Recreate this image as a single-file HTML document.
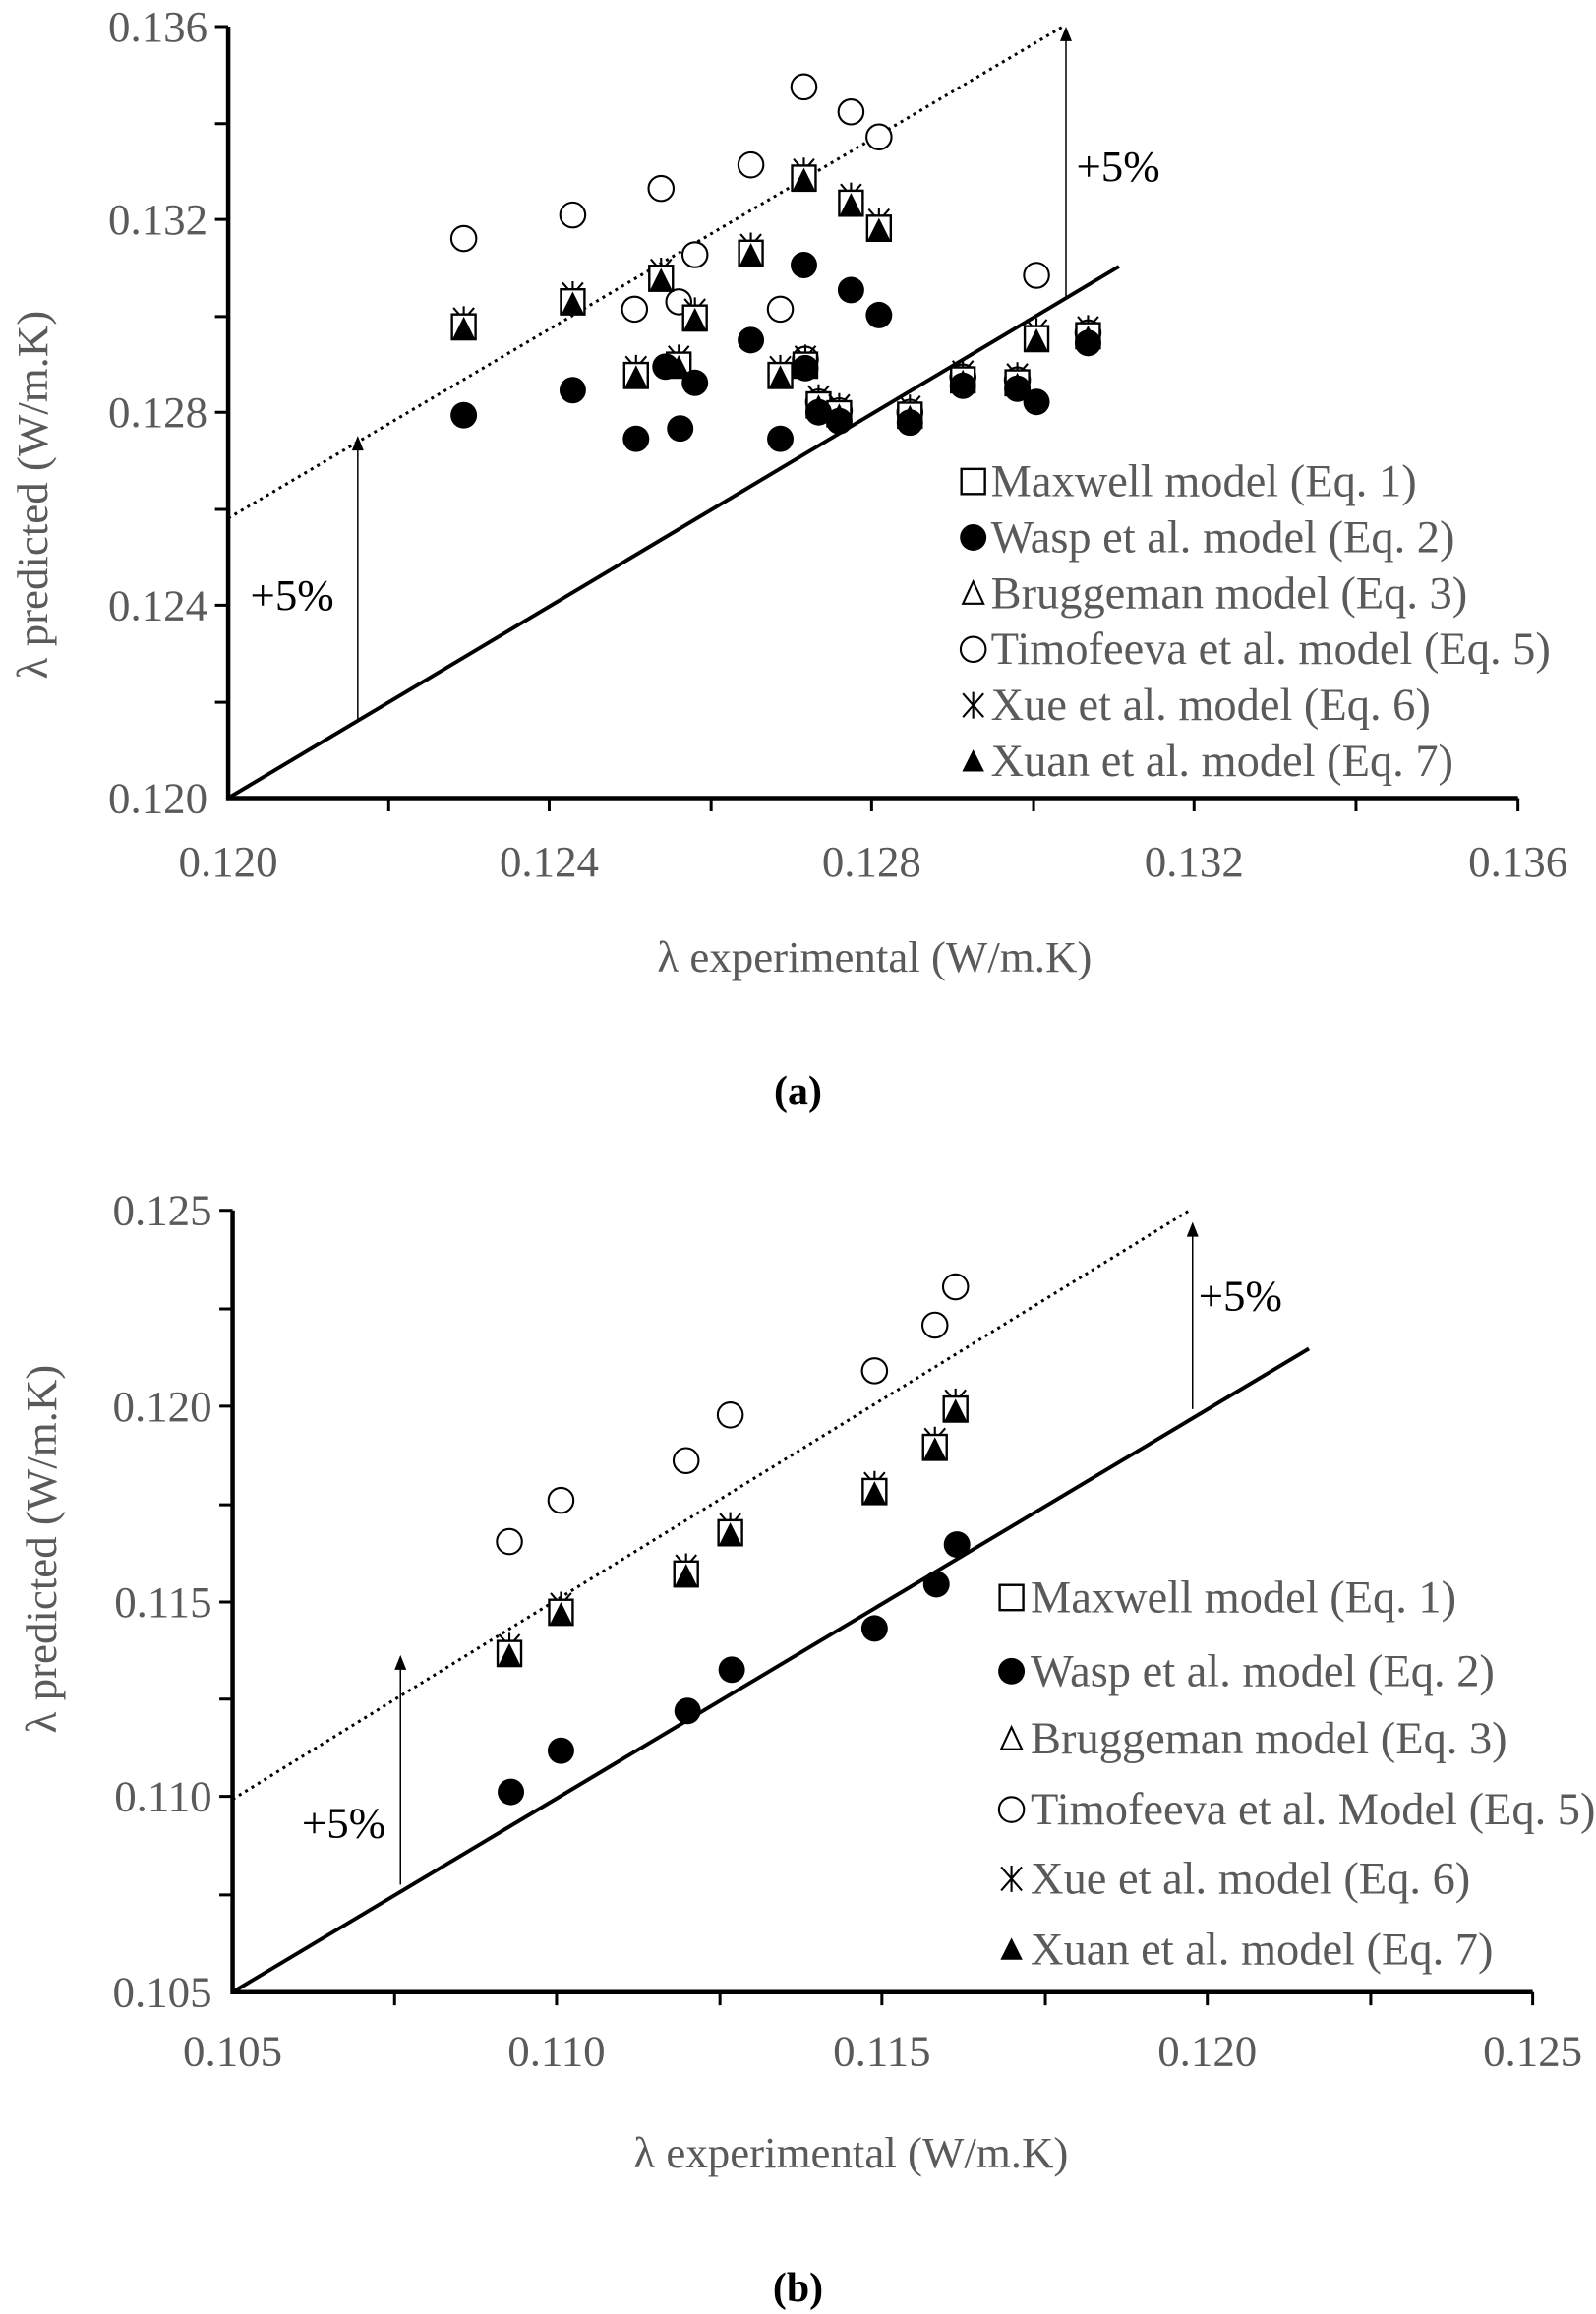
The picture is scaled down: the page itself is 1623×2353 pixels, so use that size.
<!DOCTYPE html>
<html><head><meta charset="utf-8"><style>
html,body{margin:0;padding:0;background:#fff;}
svg{display:block;}
text{font-family:"Liberation Serif",serif;fill:#5a5a5a;}
</style></head><body>
<svg width="1623" height="2353" viewBox="0 0 1084 1571.6" preserveAspectRatio="none" xmlns="http://www.w3.org/2000/svg">
<defs>
<g id="sq"><rect x="-8" y="-8.5" width="16" height="17" fill="#fff" stroke="#000" stroke-width="1.6"/></g>
<g id="tri"><path d="M-7.5,7 L7.5,7 L0,-8 Z" fill="#000"/></g>
<g id="otri"><path d="M-7,7 L7,7 L0,-8 Z" fill="#fff" stroke="#000" stroke-width="1.4"/></g>
<g id="fc"><circle r="9" fill="#000"/></g>
<g id="oc"><circle r="8.5" fill="#fff" stroke="#000" stroke-width="1.4"/></g>
<g id="st" stroke="#000" stroke-width="1.4"><path d="M-7,-8 L7,8 M-7,8 L7,-8 M0,-9 L0,9"/></g>
<g id="combo"><use href="#st" y="-5"/><use href="#sq"/><use href="#tri" y="1"/></g>
<g id="ah"><path d="M-4,10 L4,10 L0,0 Z" fill="#000"/></g>
</defs>

<!-- Chart A -->
<g stroke="#000" stroke-width="3" fill="none">
<path d="M155,18 V542 H1031"/>
</g>
<g stroke="#000" stroke-width="2" fill="none">
<path d="M146,18 H155 M146,84 H155 M146,149 H155 M146,215 H155 M146,280 H155 M146,346 H155 M146,411 H155 M146,477 H155"/>
<path d="M264,542 V551 M373,542 V551 M483,542 V551 M592,542 V551 M702,542 V551 M811,542 V551 M921,542 V551 M1031,542 V551"/>
</g>
<line x1="155" y1="542" x2="760" y2="181" stroke="#000" stroke-width="2.6"/>
<line x1="155" y1="352" x2="722" y2="18" stroke="#000" stroke-width="2" stroke-dasharray="2,3"/>
<line x1="724" y1="202" x2="724" y2="26" stroke="#000" stroke-width="1"/><use href="#ah" x="724" y="18"/>
<line x1="243" y1="490" x2="243" y2="304" stroke="#000" stroke-width="1"/><use href="#ah" x="243" y="296"/>
<text x="731" y="123" font-size="30" style="fill:#000">+5%</text>
<text x="170" y="414" font-size="30" style="fill:#000">+5%</text>
<g font-size="30" text-anchor="end">
<text x="141" y="28">0.136</text><text x="141" y="159">0.132</text><text x="141" y="290">0.128</text><text x="141" y="421">0.124</text><text x="141" y="552">0.120</text>
</g>
<g font-size="30" text-anchor="middle">
<text x="155" y="595">0.120</text><text x="373" y="595">0.124</text><text x="592" y="595">0.128</text><text x="811" y="595">0.132</text><text x="1031" y="595">0.136</text>
<text x="594" y="660">λ experimental  (W/m.K)</text>
<text x="542" y="750" font-weight="bold" font-size="28" style="fill:#000">(a)</text>
</g>
<text transform="translate(32,336) rotate(-90)" font-size="30" text-anchor="middle">λ predicted (W/m.K)</text>

<g>
<use href="#oc" x="315" y="162"/><use href="#oc" x="389" y="146"/><use href="#oc" x="449" y="128"/><use href="#oc" x="431" y="210"/><use href="#oc" x="461" y="205"/><use href="#oc" x="472" y="173"/><use href="#oc" x="510" y="112"/><use href="#oc" x="530" y="210"/><use href="#oc" x="546" y="59"/><use href="#oc" x="578" y="76"/><use href="#oc" x="597" y="93"/><use href="#oc" x="704" y="187"/><use href="#oc" x="547" y="244"/><use href="#oc" x="556" y="273"/><use href="#oc" x="570" y="279"/><use href="#oc" x="618" y="280"/><use href="#oc" x="654" y="256"/><use href="#oc" x="691" y="258"/><use href="#oc" x="739" y="226"/>
<use href="#combo" x="315" y="222"/><use href="#combo" x="389" y="205"/><use href="#combo" x="432" y="255"/><use href="#combo" x="449" y="189"/><use href="#combo" x="461" y="248"/><use href="#combo" x="472" y="216"/><use href="#combo" x="510" y="172"/><use href="#combo" x="530" y="255"/><use href="#combo" x="546" y="121"/><use href="#combo" x="547" y="248"/><use href="#combo" x="556" y="275"/><use href="#combo" x="570" y="281"/><use href="#combo" x="578" y="138"/><use href="#combo" x="597" y="155"/><use href="#combo" x="618" y="282"/><use href="#combo" x="654" y="258"/><use href="#combo" x="691" y="260"/><use href="#combo" x="704" y="230"/><use href="#combo" x="739" y="228"/>
<use href="#fc" x="315" y="282"/><use href="#fc" x="389" y="265"/><use href="#fc" x="432" y="298"/><use href="#fc" x="452" y="249"/><use href="#fc" x="462" y="291"/><use href="#fc" x="472" y="260"/><use href="#fc" x="510" y="231"/><use href="#fc" x="530" y="298"/><use href="#fc" x="546" y="180"/><use href="#fc" x="547" y="250"/><use href="#fc" x="556" y="280"/><use href="#fc" x="570" y="286"/><use href="#fc" x="578" y="197"/><use href="#fc" x="597" y="214"/><use href="#fc" x="618" y="287"/><use href="#fc" x="654" y="262"/><use href="#fc" x="691" y="264"/><use href="#fc" x="704" y="273"/><use href="#fc" x="739" y="233"/>
</g>
<g font-size="31">
<use href="#sq" x="661" y="327"/><text x="673" y="337">Maxwell model (Eq. 1)</text>
<use href="#fc" x="661" y="365"/><text x="673" y="375">Wasp et al. model (Eq. 2)</text>
<use href="#otri" x="661" y="403"/><text x="673" y="413">Bruggeman model (Eq. 3)</text>
<use href="#oc" x="661" y="441"/><text x="673" y="451">Timofeeva et al. model (Eq. 5)</text>
<use href="#st" x="661" y="479"/><text x="673" y="489">Xue et al. model (Eq. 6)</text>
<use href="#tri" x="661" y="517"/><text x="673" y="527">Xuan et al. model (Eq. 7)</text>
</g>

<!-- Chart B -->
<g stroke="#000" stroke-width="3" fill="none">
<path d="M158,822 V1353 H1041"/>
</g>
<g stroke="#000" stroke-width="2" fill="none">
<path d="M149,822 H158 M149,889 H158 M149,955 H158 M149,1022 H158 M149,1088 H158 M149,1154 H158 M149,1220 H158 M149,1287 H158"/>
<path d="M268,1353 V1362 M378,1353 V1362 M489,1353 V1362 M599,1353 V1362 M710,1353 V1362 M820,1353 V1362 M931,1353 V1362 M1041,1353 V1362"/>
</g>
<line x1="158" y1="1353" x2="889" y2="916" stroke="#000" stroke-width="2.6"/>
<line x1="158" y1="1222" x2="808" y2="822" stroke="#000" stroke-width="2" stroke-dasharray="2,3"/>
<line x1="810" y1="957" x2="810" y2="838" stroke="#000" stroke-width="1"/><use href="#ah" x="810" y="830"/>
<line x1="272" y1="1280" x2="272" y2="1132" stroke="#000" stroke-width="1"/><use href="#ah" x="272" y="1124"/>
<text x="814" y="890" font-size="30" style="fill:#000">+5%</text>
<text x="205" y="1248" font-size="30" style="fill:#000">+5%</text>
<g font-size="30" text-anchor="end">
<text x="144" y="832">0.125</text><text x="144" y="965">0.120</text><text x="144" y="1098">0.115</text><text x="144" y="1230">0.110</text><text x="144" y="1363">0.105</text>
</g>
<g font-size="30" text-anchor="middle">
<text x="158" y="1403">0.105</text><text x="378" y="1403">0.110</text><text x="599" y="1403">0.115</text><text x="820" y="1403">0.120</text><text x="1041" y="1403">0.125</text>
<text x="578" y="1472">λ experimental  (W/m.K)</text>
<text x="542" y="1563" font-weight="bold" font-size="28" style="fill:#000">(b)</text>
</g>
<text transform="translate(38,1052) rotate(-90)" font-size="30" text-anchor="middle">λ predicted (W/m.K)</text>
<g>
<use href="#oc" x="346" y="1047"/><use href="#oc" x="381" y="1019"/><use href="#oc" x="466" y="992"/><use href="#oc" x="496" y="961"/><use href="#oc" x="594" y="931"/><use href="#oc" x="635" y="900"/><use href="#oc" x="649" y="874"/>
<use href="#combo" x="346" y="1123"/><use href="#combo" x="381" y="1095"/><use href="#combo" x="466" y="1069"/><use href="#combo" x="496" y="1041"/><use href="#combo" x="594" y="1013"/><use href="#combo" x="635" y="983"/><use href="#combo" x="649" y="957"/>
<use href="#fc" x="347" y="1217"/><use href="#fc" x="381" y="1189"/><use href="#fc" x="467" y="1162"/><use href="#fc" x="497" y="1134"/><use href="#fc" x="594" y="1106"/><use href="#fc" x="636" y="1076"/><use href="#fc" x="650" y="1049"/>
</g>
<g font-size="31">
<use href="#sq" x="687" y="1085"/><text x="700" y="1095">Maxwell model (Eq. 1)</text>
<use href="#fc" x="687" y="1135"/><text x="700" y="1145">Wasp et al. model (Eq. 2)</text>
<use href="#otri" x="687" y="1181"/><text x="700" y="1191">Bruggeman model (Eq. 3)</text>
<use href="#oc" x="687" y="1229"/><text x="700" y="1239">Timofeeva et al. Model (Eq. 5)</text>
<use href="#st" x="687" y="1276"/><text x="700" y="1286">Xue et al. model (Eq. 6)</text>
<use href="#tri" x="687" y="1324"/><text x="700" y="1334">Xuan et al. model (Eq. 7)</text>
</g>
</svg>
</body></html>
